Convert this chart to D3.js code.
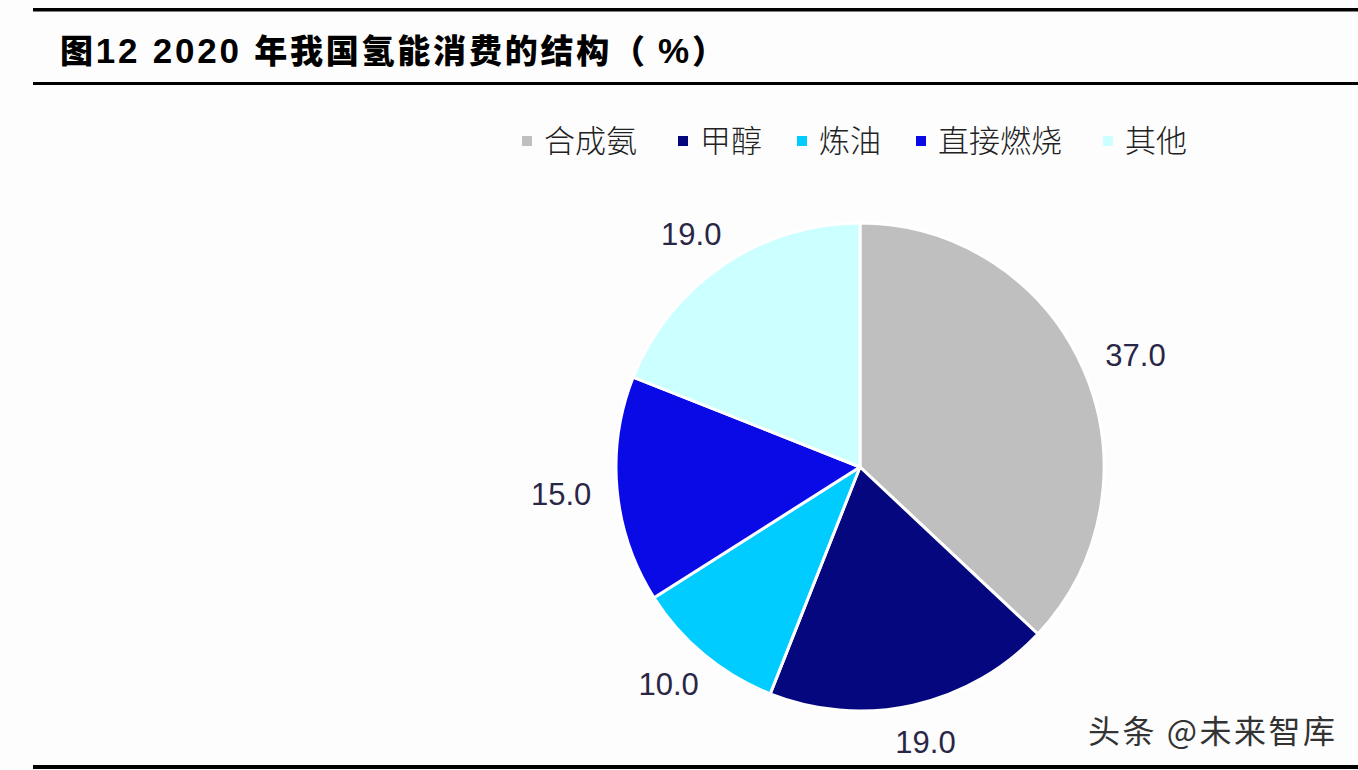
<!DOCTYPE html>
<html><head><meta charset="utf-8">
<script src="https://cdn.jsdelivr.net/npm/d3@7/dist/d3.min.js"></script>
<style>body{margin:0;background:#fdfdfd;}svg{display:block;}</style>
</head><body>
<svg id="c" width="1358" height="770"></svg>
<script>
const categories = ["合成氨","甲醇","炼油","直接燃烧","其他"];
const values = [37.0, 19.0, 10.0, 15.0, 19.0];
const colors = ["#c0bfc0","#05077f","#00ccff","#0a0ae6","#ccffff"];
const titleParts = ["图", "12 2020 ", "年我国氢能消费的结构（ ", "%", "）"];

const svg = d3.select("#c");
svg.append("rect").attr("width",1358).attr("height",770).attr("fill","#fdfdfd");
// rules
svg.append("rect").attr("x",33).attr("y",8).attr("width",1325).attr("height",3.5).attr("fill","#000");
svg.append("rect").attr("x",33).attr("y",82).attr("width",1325).attr("height",3).attr("fill","#000");
svg.append("rect").attr("x",33).attr("y",765).attr("width",1325).attr("height",4).attr("fill","#000");

const t = svg.append("text").attr("x",60).attr("y",63).attr("fill","#000")
  .attr("textLength",665).attr("lengthAdjust","spacing").attr("xml:space","preserve");
titleParts.forEach((p,i)=>{
  const latin = (i===1||i===3);
  t.append("tspan").text(p)
    .attr("font-family", latin ? "'Liberation Sans', Arial, sans-serif" : "'Noto Sans CJK SC', sans-serif")
    .attr("font-weight", latin ? "700" : "900")
    .attr("font-size", latin ? 35 : 33);
});

// legend
const legX = [522, 678, 797, 916, 1103];
const leg = svg.append("g");
categories.forEach((c,i)=>{
  leg.append("rect").attr("x",legX[i]).attr("y",136).attr("width",10).attr("height",10).attr("fill",colors[i]);
  leg.append("text").attr("x",legX[i]+22).attr("y",152).text(c)
    .attr("font-family","'Noto Sans CJK SC', serif").attr("font-weight","300")
    .attr("font-size",31).attr("fill","#222");
});

const cx=860, cy=467, r=244;
const pie = d3.pie().sort(null).value(d=>d)(values);
const arc = d3.arc().innerRadius(0).outerRadius(r);
const g = svg.append("g").attr("transform",`translate(${cx},${cy})`);
g.selectAll("path").data(pie).join("path").attr("d",arc)
  .attr("fill",(d,i)=>colors[i]).attr("stroke","#fff").attr("stroke-width",3).attr("stroke-linejoin","round");

const fs = 31, R = 270;
g.selectAll("text").data(pie).join("text")
  .attr("text-anchor","middle").attr("dy","0.36em")
  .attr("font-family","'Liberation Sans', Arial, sans-serif").attr("font-size",fs)
  .attr("fill","#2a2746").text(d=>d.data.toFixed(1))
  .attr("transform",function(d){
    const a = (d.startAngle+d.endAngle)/2;
    const w = this.getComputedTextLength(), h = fs*0.75;
    const x = R*Math.sin(a) + w/2*Math.sin(a);
    const y = -R*Math.cos(a) - h/2*Math.cos(a);
    return `translate(${x},${y})`;
  });

svg.append("text").attr("x",1088).attr("y",743).text("头条 @未来智库")
  .attr("font-family","'Noto Sans CJK SC', sans-serif").attr("font-size",32)
  .attr("fill","#333").attr("textLength",247).attr("lengthAdjust","spacing");
</script>
</body></html>
